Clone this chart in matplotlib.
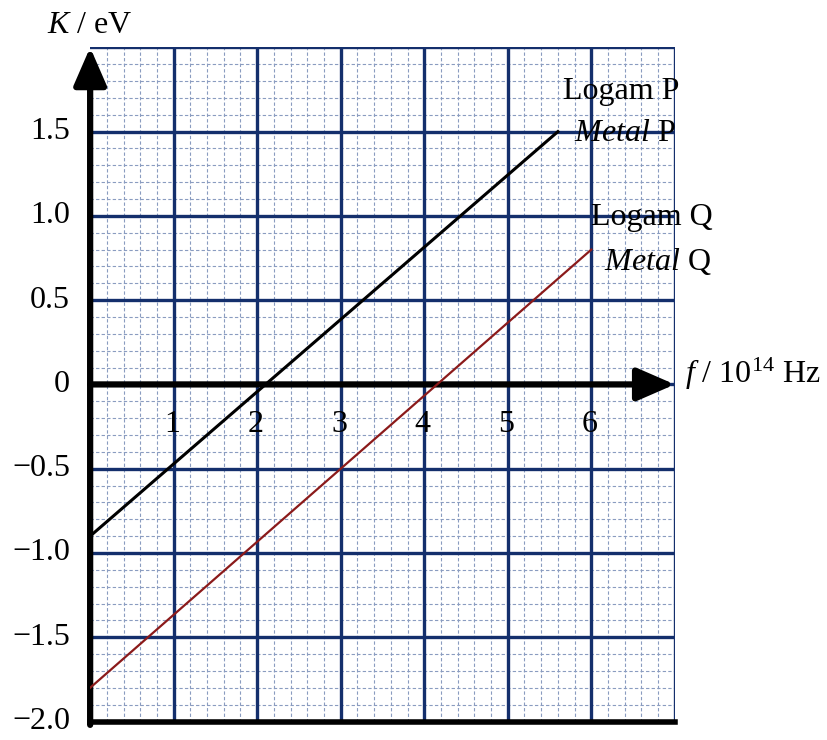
import matplotlib
matplotlib.use("Agg")
import matplotlib.pyplot as plt
import numpy as np

# Data
f_P = [0.0, 5.6]
K_P = [-0.9, 1.5]
f_Q = [0.0, 6.0]
K_Q = [-1.8, 0.8]
x_ticks = [1, 2, 3, 4, 5, 6]
y_ticks = [1.5, 1.0, 0.5, 0, -0.5, -1.0, -1.5, -2.0]
y_tick_labels = ["1.5", "1.0", "0.5", "0", "\u22120.5", "\u22121.0", "\u22121.5", "\u22122.0"]

serif = ["Liberation Serif", "DejaVu Serif"]
plt.rcParams["font.family"] = serif
plt.rcParams["mathtext.fontset"] = "custom"
plt.rcParams["mathtext.rm"] = "Liberation Serif"
plt.rcParams["mathtext.it"] = "Liberation Serif:italic"

FS = 23

fig = plt.figure(figsize=(8.27, 7.40), dpi=100)
ax = fig.add_axes([0.109, 0.025, 0.707, 0.911])
ax.set_xlim(0, 7)
ax.set_ylim(-2, 2)

navy = "#142f6c"
minor_c = "#8a9cc0"

# minor grid
for xv in np.arange(0, 7.01, 0.2):
    if abs(xv - round(xv)) > 1e-6:
        ax.axvline(xv, color=minor_c, lw=0.8, ls=(0, (3, 2)), zorder=1)
for yv in np.arange(-2, 2.01, 0.1):
    if abs(yv * 2 - round(yv * 2)) > 1e-6:
        ax.axhline(yv, color=minor_c, lw=0.8, ls=(0, (3, 2)), zorder=1)
# major grid
for xv in range(1, 8):
    ax.axvline(xv, color=navy, lw=2.4, zorder=2)
for yv in np.arange(-1.5, 2.01, 0.5):
    ax.axhline(yv, color=navy, lw=2.4, zorder=2)

for s in ax.spines.values():
    s.set_visible(False)
ax.set_xticks([])
ax.set_yticks([])

# bottom thick border
ax.plot([0, 7], [-2, -2], color="black", lw=4, zorder=5, clip_on=False)

# axes with arrows
arrow_style = "-|>,head_length=2.3,head_width=1.0"
ax.annotate("", xy=(0, 2.0), xytext=(0, -2.02),
            arrowprops=dict(arrowstyle=arrow_style, color="black", lw=4.5,
                            shrinkA=0, shrinkB=0),
            zorder=6, annotation_clip=False)
ax.annotate("", xy=(7.0, 0), xytext=(0, 0),
            arrowprops=dict(arrowstyle=arrow_style, color="black", lw=4.5,
                            shrinkA=0, shrinkB=0),
            zorder=6, annotation_clip=False)

# lines
ax.plot(f_P, K_P, color="black", lw=2.2, zorder=7)
ax.plot(f_Q, K_Q, color="#8b1a1a", lw=1.6, zorder=7)

# tick labels
for xv in x_ticks:
    ax.text(xv - 0.02, -0.24, str(xv), ha="center", va="center", fontsize=FS, zorder=8)
for yv, lab in zip(y_ticks, y_tick_labels):
    ax.text(-0.24, yv, lab, ha="right", va="center", fontsize=FS, zorder=8, clip_on=False)

# axis titles
ax.text(-0.52, 2.13, r"$\mathit{K}$ / eV", ha="left", va="center", fontsize=FS)
ax.text(7.12, 0.06, r"$\mathit{f}$ / 10$^{14}$ Hz", ha="left", va="center", fontsize=FS)

# line labels
ax.text(6.36, 1.74, "Logam P", ha="center", va="center", fontsize=FS)
ax.text(6.4, 1.49, r"$\mathit{Metal}$ P", ha="center", va="center", fontsize=FS)
ax.text(6.72, 0.99, "Logam Q", ha="center", va="center", fontsize=FS)
ax.text(6.8, 0.73, r"$\mathit{Metal}$ Q", ha="center", va="center", fontsize=FS)

fig.savefig("out.png", dpi=100, facecolor="white")
